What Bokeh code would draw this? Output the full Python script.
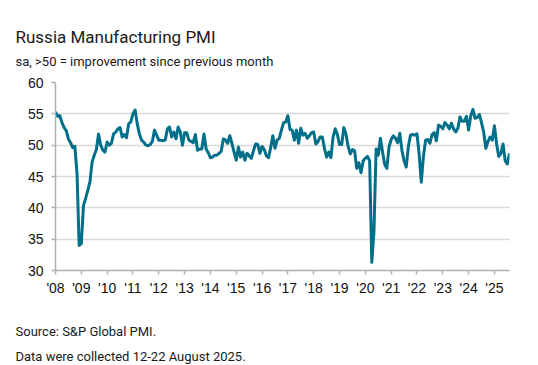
from bokeh.plotting import figure
from bokeh.models import ColumnDataSource, Title, FixedTicker
from bokeh.embed import file_html
from bokeh.resources import INLINE

# Monthly PMI, Jan 2008 .. Aug 2025
pmi_2008 = [55.3, 54.6, 54.7, 53.6, 52.8, 52.3, 51.0, 50.4, 49.6, 49.8, 45.5, 34.0]
pmi_2009 = [34.3, 40.4, 41.5, 42.8, 44.1, 47.3, 48.4, 49.3, 51.8, 50.0, 49.2, 48.9]
pmi_2010 = [50.5, 50.0, 50.3, 51.8, 52.1, 52.6, 52.8, 51.3, 51.7, 51.2, 53.4, 53.7]
pmi_2011 = [55.0, 55.6, 53.4, 51.8, 50.8, 50.5, 50.0, 49.9, 50.1, 50.6, 52.4, 51.6]
pmi_2012 = [50.8, 50.8, 50.7, 50.8, 52.6, 52.9, 51.3, 52.1, 51.0, 52.9, 52.1, 50.0]
pmi_2013 = [52.0, 52.0, 50.8, 50.6, 50.4, 51.7, 49.2, 49.4, 49.4, 51.8, 49.4, 48.8]
pmi_2014 = [48.0, 48.1, 48.4, 48.4, 48.7, 49.0, 51.0, 50.8, 50.3, 51.5, 50.3, 48.9]
pmi_2015 = [47.6, 49.7, 48.1, 48.9, 47.6, 48.7, 48.3, 47.9, 49.1, 50.2, 50.1, 48.7]
pmi_2016 = [49.8, 49.3, 48.3, 48.0, 49.6, 51.5, 49.5, 50.8, 51.1, 52.4, 53.6, 53.7]
pmi_2017 = [54.7, 52.5, 52.4, 50.8, 52.4, 50.3, 52.7, 51.6, 51.9, 51.1, 51.5, 52.0]
pmi_2018 = [52.1, 50.2, 50.6, 51.3, 51.3, 49.5, 48.1, 48.9, 48.0, 51.3, 52.6, 51.7]
pmi_2019 = [50.1, 50.1, 52.8, 51.8, 49.8, 48.6, 49.3, 49.1, 46.3, 47.2, 45.6, 47.5]
pmi_2020 = [47.9, 48.2, 47.5, 31.3, 36.2, 49.4, 48.4, 51.1, 48.9, 46.9, 46.3, 49.7]
pmi_2021 = [50.9, 51.5, 51.1, 50.4, 51.9, 49.2, 47.5, 46.5, 49.8, 51.6, 51.7, 51.6]
pmi_2022 = [51.8, 48.6, 44.1, 48.2, 50.8, 50.9, 50.3, 51.7, 52.0, 50.7, 53.2, 53.0]
pmi_2023 = [52.6, 53.6, 53.2, 52.6, 53.5, 52.6, 52.1, 52.7, 54.5, 53.8, 53.8, 54.6]
pmi_2024 = [52.4, 54.7, 55.7, 54.3, 54.4, 54.9, 53.6, 52.1, 49.5, 50.6, 51.3, 50.8]
pmi_2025 = [53.1, 50.2, 48.2, 48.7, 50.2, 47.5, 47.0, 48.7]

start_year = 2008
year_ticks = list(range(2008, 2026))
year_labels = ["'" + str(y)[2:] for y in year_ticks]
y_ticks = [30, 35, 40, 45, 50, 55, 60]

values = (pmi_2008 + pmi_2009 + pmi_2010 + pmi_2011 + pmi_2012 + pmi_2013 + pmi_2014
          + pmi_2015 + pmi_2016 + pmi_2017 + pmi_2018 + pmi_2019 + pmi_2020 + pmi_2021
          + pmi_2022 + pmi_2023 + pmi_2024 + pmi_2025)
xs = [start_year + i / 12 for i in range(len(values))]

src = ColumnDataSource(dict(x=xs, y=values))

p = figure(width=538, height=365, output_backend="svg", toolbar_location=None,
           x_range=(start_year, xs[-1]), y_range=(30, 60),
           min_border_left=55, min_border_right=29, min_border_top=82, min_border_bottom=95)
p.outline_line_color = None
p.background_fill_color = "white"
p.border_fill_color = "white"

p.line("x", "y", source=src, line_color="#00708A", line_width=3, line_join="round")

# axes
p.xaxis.ticker = FixedTicker(ticks=year_ticks)
p.xaxis.major_label_overrides = {y: l for y, l in zip(year_ticks, year_labels)}
p.yaxis.ticker = FixedTicker(ticks=y_ticks)
for ax in (p.xaxis[0], p.yaxis[0]):
    ax.axis_line_color = "#b0b0b0"
    ax.axis_line_width = 1.5
    ax.major_tick_line_color = "#b0b0b0"
    ax.major_tick_line_width = 1.5
    ax.major_tick_in = 0
    ax.major_tick_out = 4
    ax.minor_tick_line_color = None
    ax.major_label_text_font = "Liberation Sans"
    ax.major_label_text_font_size = "14px"
    ax.major_label_text_color = "#111111"
p.xaxis.major_label_standoff = 5
p.yaxis.major_label_standoff = 8

p.xgrid.grid_line_color = None
p.ygrid.grid_line_color = "#d9d9d9"
p.ygrid.grid_line_width = 1.5

font = "Roboto"


def text_title(txt, size, standoff):
    return Title(text=txt, text_font=font, text_font_size=size, text_font_style="normal",
                 text_color="#1a1a1a", align="left", offset=-40, standoff=standoff)


p.add_layout(text_title("sa, >50 = improvement since previous month", "13px", 28), "above")
p.add_layout(text_title("Russia Manufacturing PMI", "17px", -18), "above")

p.add_layout(text_title("Source: S&P Global PMI.", "13px", -81), "below")
p.add_layout(text_title("Data were collected 12-22 August 2025.", "13px", -130), "below")

open("out.html", "w").write(file_html(p, INLINE))
